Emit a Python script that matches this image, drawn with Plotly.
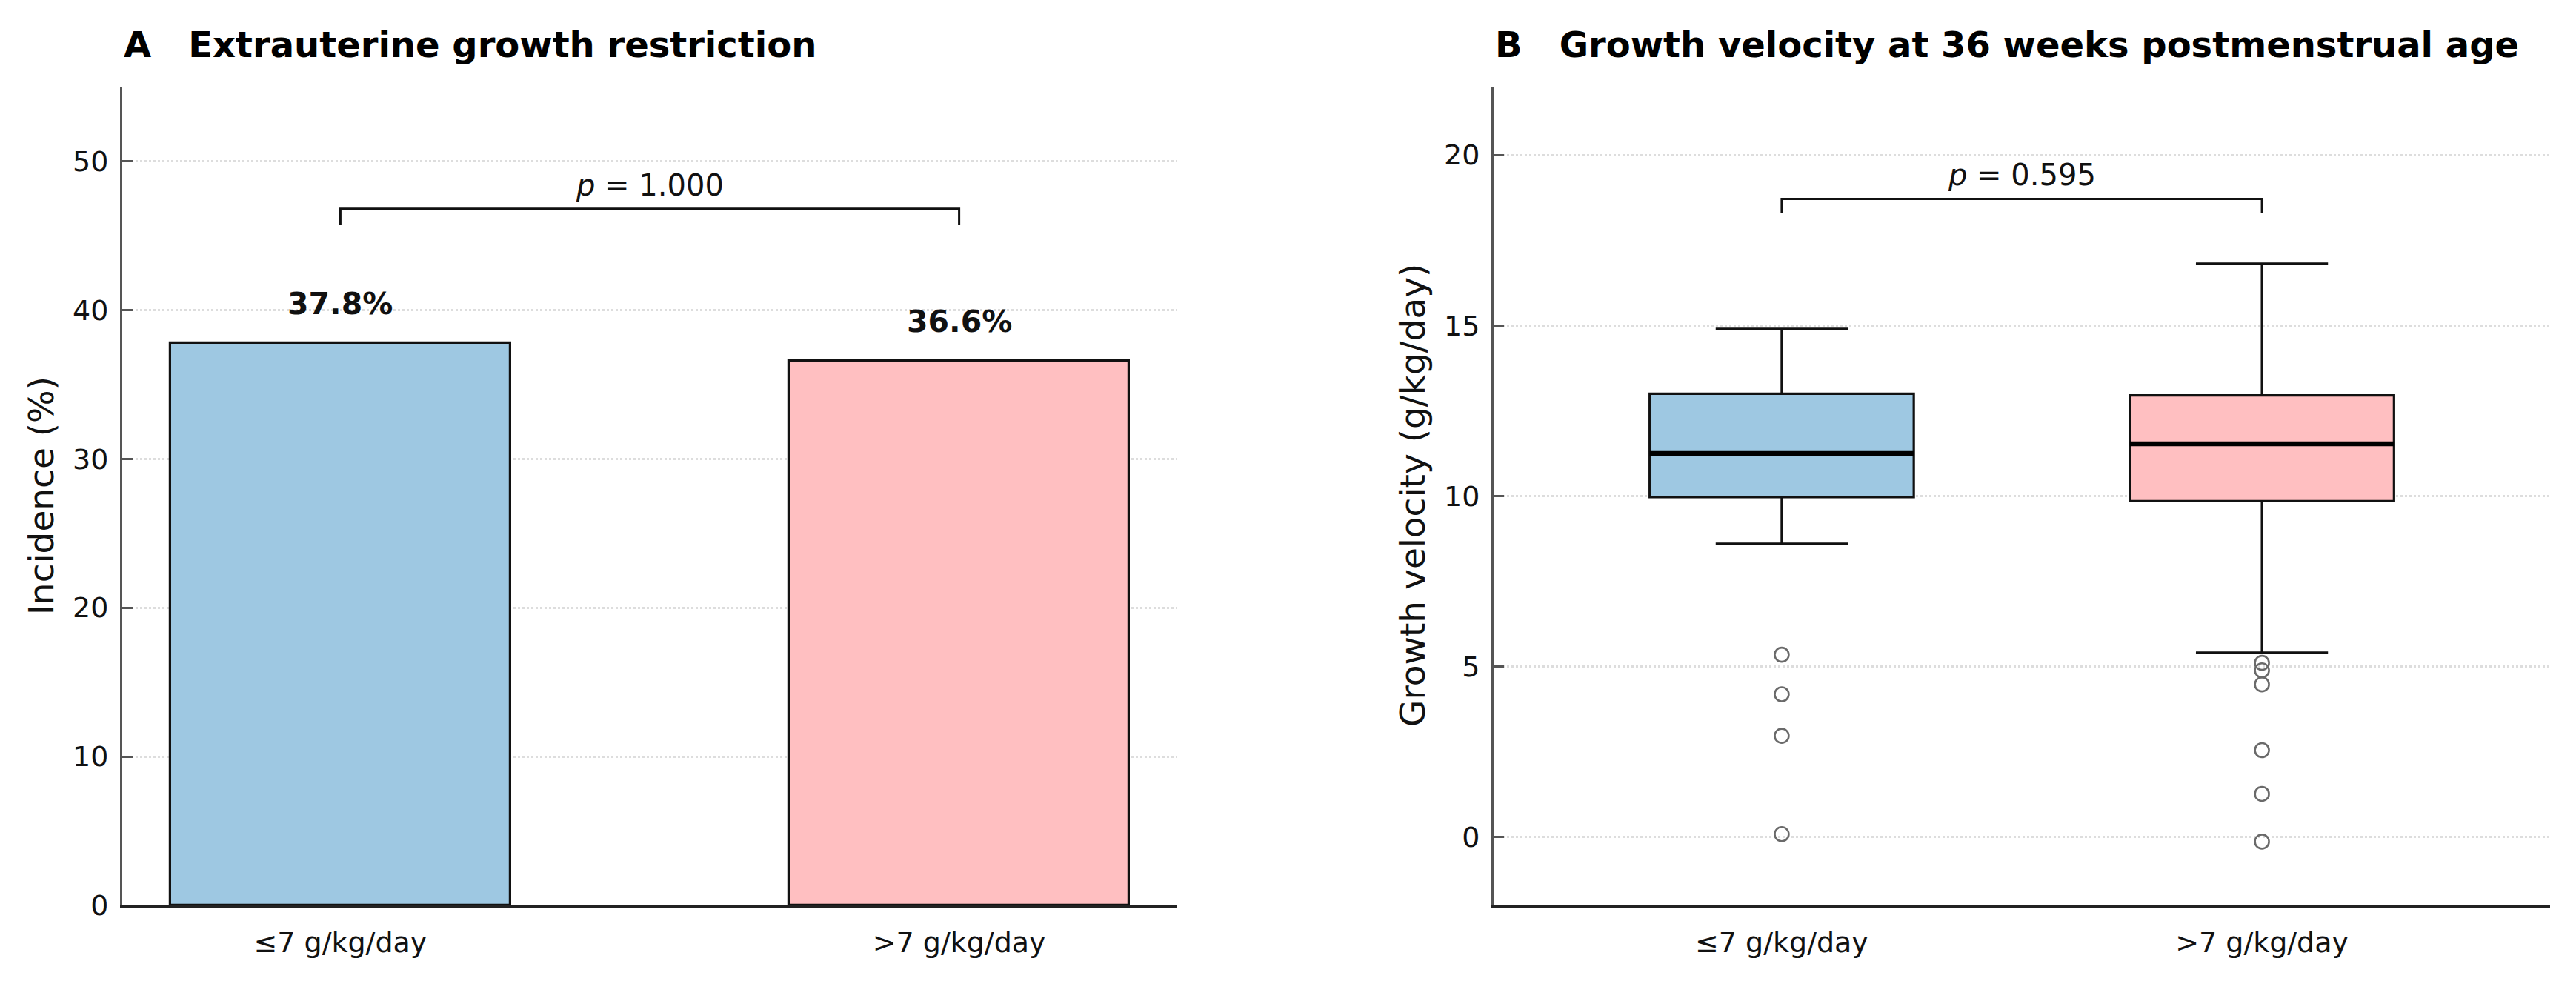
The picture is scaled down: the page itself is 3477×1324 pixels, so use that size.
import plotly.graph_objects as go

W, H = 3477, 1324

# ---------------- data ----------------
groups = ["≤7 g/kg/day", ">7 g/kg/day"]
incidence = [37.8, 36.6]          # % extrauterine growth restriction
p_eugr = "1.000"

gv_q1 = [9.97, 9.85]
gv_median = [11.25, 11.53]
gv_q3 = [13.0, 12.95]
gv_lower = [8.6, 5.41]
gv_upper = [14.9, 16.81]
gv_outliers_low = [5.35, 4.19, 2.97, 0.09]
gv_outliers_high = [5.11, 4.89, 4.48, 2.55, 1.27, -0.13]
p_gv = "0.595"

colors = ["#9ec8e2", "#ffbfc1"]
FONT = "DejaVu Sans"

def px_x(v):
    return v / W

def px_y(v):
    return 1 - v / H

fig = go.Figure()

# ---------------- panel A: bars ----------------
bar_w = 0.55
fig.add_trace(go.Bar(
    x=[0, 1], y=incidence, width=bar_w,
    marker=dict(color=colors, line=dict(color="#111111", width=3.2)),
    xaxis="x", yaxis="y", showlegend=False, hoverinfo="skip"))

# bracket A
bA = max(incidence) + 9.0
dA = 1.1
fig.add_trace(go.Scatter(
    x=[0, 0, 1, 1], y=[bA - dA, bA, bA, bA - dA], mode="lines",
    line=dict(color="#111111", width=3), xaxis="x", yaxis="y",
    showlegend=False, hoverinfo="skip"))

# ---------------- panel B: boxes ----------------
box_w = 0.55
gv_outliers = [gv_outliers_low, gv_outliers_high]
for i in range(2):
    fig.add_trace(go.Box(
        x=[i], q1=[gv_q1[i]], median=[gv_median[i]], q3=[gv_q3[i]],
        lowerfence=[gv_lower[i]], upperfence=[gv_upper[i]],
        width=box_w, whiskerwidth=0.5, fillcolor=colors[i],
        line=dict(color="#111111", width=3.2), boxpoints=False,
        xaxis="x2", yaxis="y2", showlegend=False, hoverinfo="skip"))
    # thicker median line
    fig.add_trace(go.Scatter(
        x=[i - box_w / 2, i + box_w / 2], y=[gv_median[i], gv_median[i]],
        mode="lines", line=dict(color="#000000", width=6.5),
        xaxis="x2", yaxis="y2", showlegend=False, hoverinfo="skip"))
    fig.add_trace(go.Scatter(
        x=[i] * len(gv_outliers[i]), y=gv_outliers[i], mode="markers",
        marker=dict(symbol="circle-open", size=19, color="#6a6a6a",
                    line=dict(width=2.6, color="#6a6a6a")),
        xaxis="x2", yaxis="y2", showlegend=False, hoverinfo="skip"))

# bracket B
bB = max(gv_upper) + 1.9
dB = 0.42
fig.add_trace(go.Scatter(
    x=[0, 0, 1, 1], y=[bB - dB, bB, bB, bB - dB], mode="lines",
    line=dict(color="#111111", width=3), xaxis="x2", yaxis="y2",
    showlegend=False, hoverinfo="skip"))

# ---------------- annotations ----------------
ann = []
for i, v in enumerate(incidence):
    ann.append(dict(x=i, y=v, xref="x", yref="y", text=f"<b>{v:.1f}%</b>",
                    showarrow=False, xanchor="center", yanchor="bottom", yshift=27,
                    font=dict(family=FONT, size=41, color="#111111")))
ann.append(dict(x=0.5, y=bA, xref="x", yref="y", text=f"<i>p</i> = {p_eugr}",
                showarrow=False, xanchor="center", yanchor="bottom", yshift=7,
                font=dict(family=FONT, size=40, color="#111111")))
ann.append(dict(x=0.5, y=bB, xref="x2", yref="y2", text=f"<i>p</i> = {p_gv}",
                showarrow=False, xanchor="center", yanchor="bottom", yshift=7,
                font=dict(family=FONT, size=40, color="#111111")))
# panel titles
ann.append(dict(x=px_x(165), y=px_y(90), xref="paper", yref="paper",
                text="<b>A\u00a0\u00a0\u00a0Extrauterine growth restriction</b>",
                showarrow=False, xanchor="left", yanchor="bottom",
                font=dict(family=FONT, size=48, color="#000000")))
ann.append(dict(x=px_x(2016), y=px_y(90), xref="paper", yref="paper",
                text="<b>B\u00a0\u00a0\u00a0Growth velocity at 36 weeks postmenstrual age</b>",
                showarrow=False, xanchor="left", yanchor="bottom",
                font=dict(family=FONT, size=48, color="#000000")))
# y-axis titles
ann.append(dict(x=px_x(55), y=px_y(669), xref="paper", yref="paper",
                text="Incidence (%)", textangle=-90, showarrow=False,
                xanchor="center", yanchor="middle",
                font=dict(family=FONT, size=47, color="#111111")))
ann.append(dict(x=px_x(1906), y=px_y(669), xref="paper", yref="paper",
                text="Growth velocity (g/kg/day)", textangle=-90, showarrow=False,
                xanchor="center", yanchor="middle",
                font=dict(family=FONT, size=47, color="#111111")))

tickfont = dict(family=FONT, size=38, color="#111111")
ydom = [px_y(1222), px_y(117)]

def yax(rng, dtick, anchor):
    return dict(domain=ydom, range=rng, dtick=dtick, tick0=0, anchor=anchor,
                automargin=False,
                showline=True, linecolor="#555555", linewidth=3,
                ticks="inside", ticklen=14, tickwidth=3, tickcolor="#555555",
                showgrid=True, gridcolor="#dddddd", gridwidth=2.5, griddash="dot",
                zeroline=False, tickfont=tickfont, ticklabelstandoff=8)

def xax(dom, rng, anchor):
    return dict(domain=dom, range=rng, anchor=anchor, tickvals=[0, 1], ticktext=groups,
                automargin=False,
                showline=True, linecolor="#222222", linewidth=3.5,
                ticks="", showgrid=False, zeroline=False, tickfont=tickfont,
                ticklabelstandoff=14)

fig.update_layout(
    width=W, height=H,
    margin=dict(l=0, r=0, t=0, b=0, autoexpand=False),
    paper_bgcolor="white", plot_bgcolor="white",
    xaxis=xax([px_x(165), px_x(1589)], [-0.3525, 1.3525], "y"),
    yaxis=yax([0, 55], 10, "x"),
    xaxis2=xax([px_x(2016), px_x(3442)], [-0.6, 1.6], "y2"),
    yaxis2=yax([-2, 22], 5, "x2"),
    annotations=ann,
    bargap=0,
)

fig.write_html("out.html")
